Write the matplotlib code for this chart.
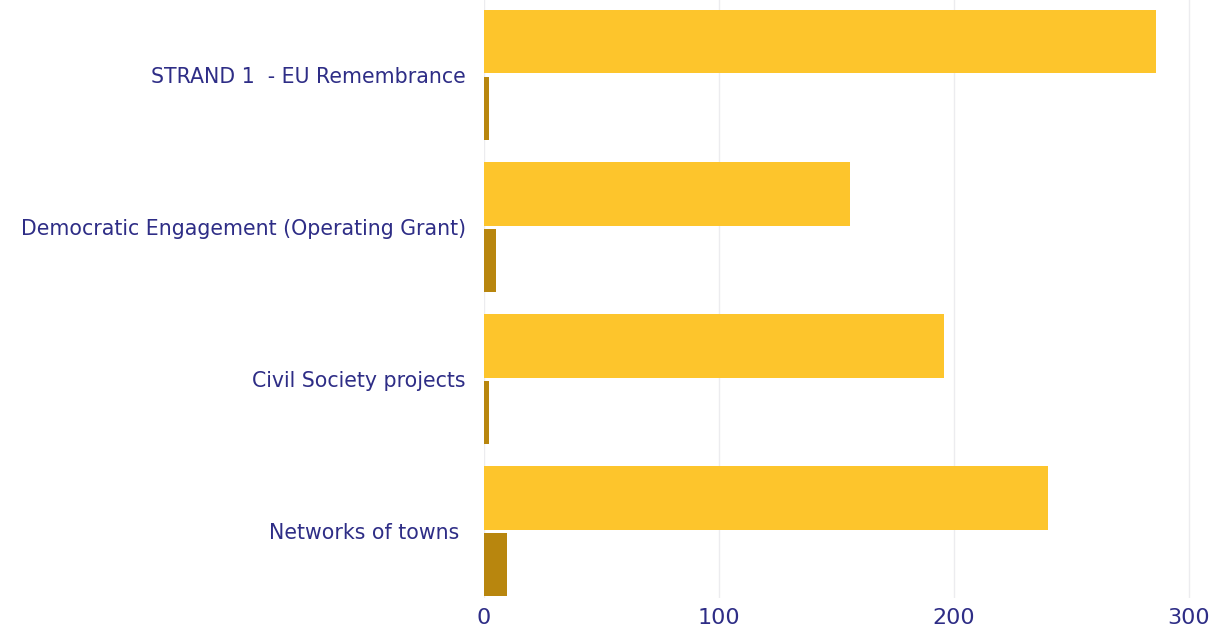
import numpy as np
import matplotlib.pyplot as plt

categories = ["STRAND 1  - EU Remembrance",
              "Democratic Engagement (Operating Grant)",
              "Civil Society projects",
              "Networks of towns "]
series_a = [286, 156, 196, 240]
series_b = [2, 5, 2, 10]
xticks = [0, 100, 200, 300]

yellow = "#FDC52C"
dark = "#B8860E"
navy = "#2E2D86"

plt.rcParams['font.family'] = ['DejaVu Sans']

fig = plt.figure(figsize=(12.19, 6.30), dpi=100)
# axes spans 0 -> 300 over 705 px, categories 152 px apart
ax = fig.add_axes([484 / 1219, 32 / 630, 728 / 1219, 599 / 630])

y = np.arange(len(categories))
h = 0.42
gap = 0.02
ax.barh(y - h / 2 - gap / 2, series_a, height=h, color=yellow, zorder=2)
ax.barh(y + h / 2 + gap / 2, series_b, height=h, color=dark, zorder=2)

ax.set_ylim(3.44, -0.5)
ax.set_xlim(0, 310)
ax.set_xticks(xticks)
ax.set_yticks(y)
ax.set_yticklabels(categories)
ax.tick_params(axis='both', length=0, labelcolor=navy)
ax.tick_params(axis='y', pad=13, labelsize=14.8)
ax.tick_params(axis='x', pad=7, labelsize=16)
for s in ax.spines.values():
    s.set_visible(False)
ax.grid(axis='x', color="#ECECEF", linewidth=1, zorder=0)
ax.set_axisbelow(True)

fig.savefig("out.png", dpi=100)
